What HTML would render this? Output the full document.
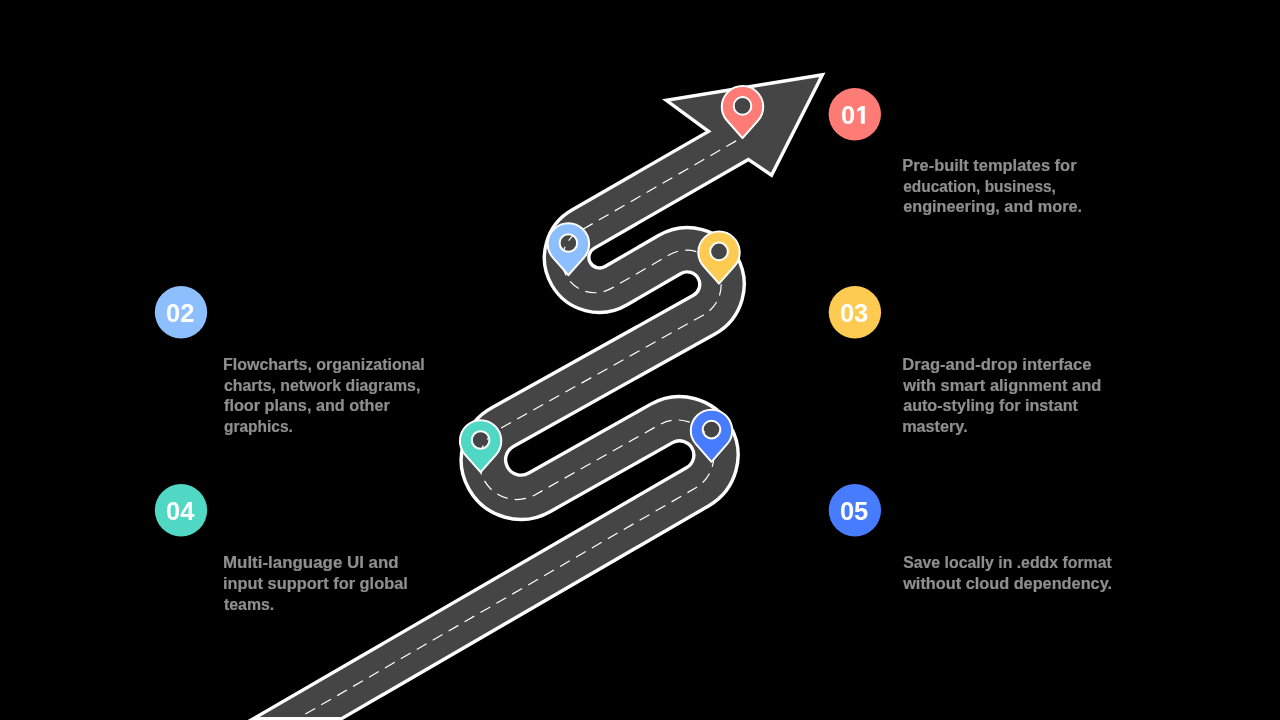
<!DOCTYPE html>
<html><head><meta charset="utf-8">
<style>
html,body{margin:0;padding:0;background:#000;}
body{width:1280px;height:720px;overflow:hidden;position:relative;}
svg{position:absolute;left:0;top:0;will-change:transform;}
.num{font-family:"Liberation Sans",sans-serif;font-weight:bold;font-size:25.5px;fill:#fff;letter-spacing:-0.1px;}
.desc{font-family:"Liberation Sans",sans-serif;font-weight:bold;font-size:16px;fill:#8f8f8f;stroke:#8f8f8f;stroke-width:0.2px;}
</style></head><body>
<svg width="1280" height="720" viewBox="0 0 1280 720">
<path d="M 253.45 718.60 L 686.77 467.47 A 14.30 14.30 0 0 0 672.58 442.64 L 550.48 511.43 A 59.55 59.55 0 1 1 492.24 407.55 L 693.39 295.32 A 12.50 12.50 0 1 0 681.04 273.58 L 627.12 304.74 A 54.80 54.80 0 1 1 572.34 209.82 L 708.54 131.35 L 666.30 100.30 L 822.45 74.70 L 771.55 175.25 L 748.32 159.44 L 594.41 248.12 A 10.60 10.60 0 1 0 605.00 266.48 L 658.93 235.31 A 56.70 56.70 0 1 1 714.93 333.91 L 513.77 446.15 A 15.35 15.35 0 1 0 528.78 472.92 L 650.88 404.13 A 58.50 58.50 0 0 1 708.93 505.71 L 341.60 718.60 Z" fill="#454545" stroke="#fff" stroke-width="3.4" stroke-linejoin="miter" stroke-miterlimit="10"/>
<path id="dashp" d="M 291.66 722.00 L 695.47 487.97 A 36.40 36.40 0 0 0 659.35 424.76 L 535.31 494.67 A 37.45 37.45 0 1 1 498.66 429.35 L 703.65 314.91 A 34.60 34.60 0 1 0 669.47 254.74 L 611.26 288.39 A 32.70 32.70 0 1 1 578.56 231.75 L 741.27 137.91" fill="none" stroke="#fff" stroke-width="1.2" stroke-dasharray="11.3 7.1" stroke-dashoffset="2.58"/>
<path d="M 742.50 138.10 L 758.03 120.49 A 20.70 20.70 0 1 0 726.97 120.49 Z M 751.30 105.90 A 8.80 8.80 0 1 0 733.70 105.90 A 8.80 8.80 0 1 0 751.30 105.90 Z" fill="#FF7B75" fill-rule="evenodd" stroke="#fff" stroke-width="2" stroke-linejoin="round"/><path d="M 568.40 275.20 L 583.93 257.59 A 20.70 20.70 0 1 0 552.87 257.59 Z M 577.20 243.00 A 8.80 8.80 0 1 0 559.60 243.00 A 8.80 8.80 0 1 0 577.20 243.00 Z" fill="#8DBFFF" fill-rule="evenodd" stroke="#fff" stroke-width="2" stroke-linejoin="round"/><path d="M 719.00 283.60 L 734.53 265.99 A 20.70 20.70 0 1 0 703.47 265.99 Z M 727.80 251.40 A 8.80 8.80 0 1 0 710.20 251.40 A 8.80 8.80 0 1 0 727.80 251.40 Z" fill="#FECB52" fill-rule="evenodd" stroke="#fff" stroke-width="2" stroke-linejoin="round"/><path d="M 480.60 472.20 L 496.13 454.59 A 20.70 20.70 0 1 0 465.07 454.59 Z M 489.40 440.00 A 8.80 8.80 0 1 0 471.80 440.00 A 8.80 8.80 0 1 0 489.40 440.00 Z" fill="#50D8C5" fill-rule="evenodd" stroke="#fff" stroke-width="2" stroke-linejoin="round"/><path d="M 711.50 461.80 L 727.03 444.19 A 20.70 20.70 0 1 0 695.97 444.19 Z M 720.30 429.60 A 8.80 8.80 0 1 0 702.70 429.60 A 8.80 8.80 0 1 0 720.30 429.60 Z" fill="#487CFF" fill-rule="evenodd" stroke="#fff" stroke-width="2" stroke-linejoin="round"/>
<circle cx="854.8" cy="114.3" r="26.2" fill="#FF7B75"/><text x="855.00" y="124.10" text-anchor="end" class="num">0</text><path d="M 864.80 106.00 L 864.80 123.85 L 860.85 123.85 L 860.85 110.00 L 857.05 111.90 L 857.05 108.90 L 861.60 106.00 Z" fill="#fff"/><circle cx="181.0" cy="312.2" r="26.2" fill="#8DBFFF"/><text x="180.20" y="322.00" text-anchor="middle" class="num">02</text><circle cx="854.9" cy="312.2" r="26.2" fill="#FECB52"/><text x="854.10" y="322.00" text-anchor="middle" class="num">03</text><circle cx="181.0" cy="510.3" r="26.2" fill="#50D8C5"/><text x="180.20" y="520.10" text-anchor="middle" class="num">04</text><circle cx="854.9" cy="510.3" r="26.2" fill="#487CFF"/><text x="854.10" y="520.10" text-anchor="middle" class="num">05</text>
<text id="t0" x="902.20" y="170.80" class="desc" textLength="174.34" lengthAdjust="spacingAndGlyphs">Pre-built templates for</text><text id="t1" x="903.20" y="191.80" class="desc" textLength="152.66" lengthAdjust="spacingAndGlyphs">education, business,</text><text id="t2" x="903.20" y="212.30" class="desc" textLength="178.84" lengthAdjust="spacingAndGlyphs">engineering, and more.</text><text id="t3" x="223.00" y="370.20" class="desc" textLength="201.81" lengthAdjust="spacingAndGlyphs">Flowcharts, organizational</text><text id="t4" x="224.00" y="390.60" class="desc" textLength="196.29" lengthAdjust="spacingAndGlyphs">charts, network diagrams,</text><text id="t5" x="224.00" y="411.20" class="desc" textLength="165.76" lengthAdjust="spacingAndGlyphs">floor plans, and other</text><text id="t6" x="224.00" y="431.75" class="desc" textLength="68.85" lengthAdjust="spacingAndGlyphs">graphics.</text><text id="t7" x="902.20" y="370.20" class="desc" textLength="189.40" lengthAdjust="spacingAndGlyphs">Drag-and-drop interface</text><text id="t8" x="903.20" y="390.60" class="desc" textLength="198.03" lengthAdjust="spacingAndGlyphs">with smart alignment and</text><text id="t9" x="903.20" y="411.20" class="desc" textLength="174.68" lengthAdjust="spacingAndGlyphs">auto-styling for instant</text><text id="t10" x="902.20" y="431.75" class="desc" textLength="65.47" lengthAdjust="spacingAndGlyphs">mastery.</text><text id="t11" x="223.00" y="567.70" class="desc" textLength="175.69" lengthAdjust="spacingAndGlyphs">Multi-language UI and</text><text id="t12" x="223.00" y="588.80" class="desc" textLength="184.86" lengthAdjust="spacingAndGlyphs">input support for global</text><text id="t13" x="224.00" y="609.50" class="desc" textLength="50.20" lengthAdjust="spacingAndGlyphs">teams.</text><text id="t14" x="903.20" y="567.80" class="desc" textLength="208.55" lengthAdjust="spacingAndGlyphs">Save locally in .eddx format</text><text id="t15" x="903.20" y="588.75" class="desc" textLength="208.86" lengthAdjust="spacingAndGlyphs">without cloud dependency.</text>
</svg>
</body></html>
